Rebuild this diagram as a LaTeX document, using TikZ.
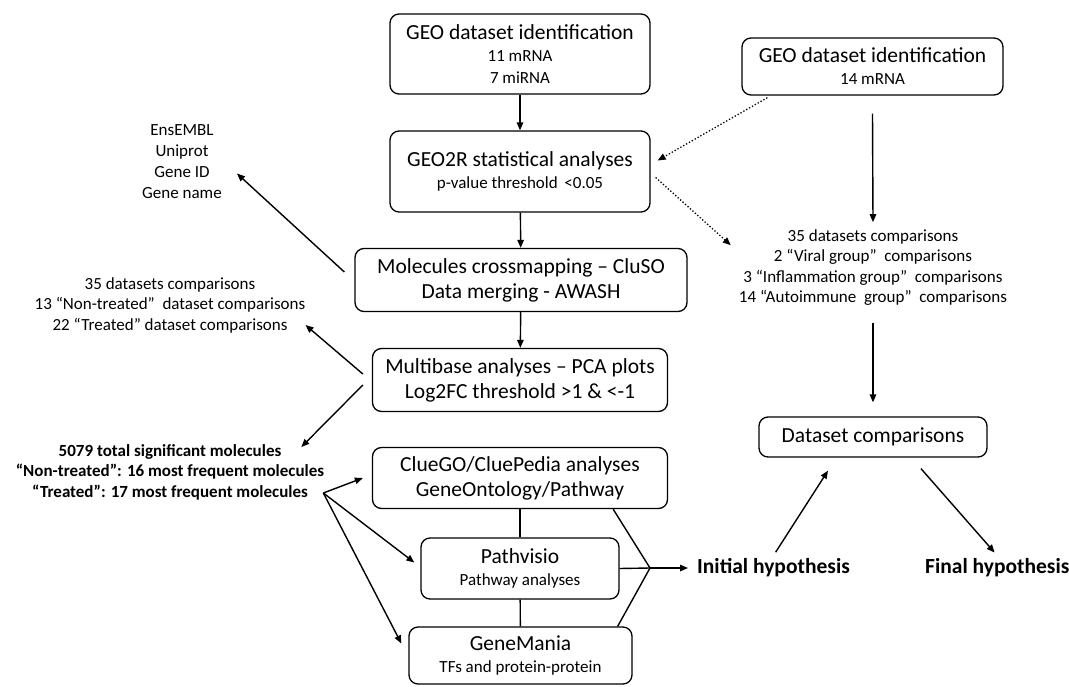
\documentclass[tikz,border=0pt]{standalone}
\usepackage{fontspec}
\setmainfont{Carlito}
\usepackage{tikz}
\usetikzlibrary{positioning,arrows.meta,calc}

\newcommand{\mainsz}{\fontsize{21.5}{25}\selectfont}
\newcommand{\subsz}{\fontsize{17}{22}\selectfont}
\newcommand{\listsz}{\fontsize{17}{20.5}\selectfont}

\tikzset{
  stepbox/.style={draw, line width=1.3pt, rounded corners=9pt, align=center, inner sep=2pt},
  arr/.style={line width=1.4pt, -{Triangle[length=8pt,width=6.5pt]}},
  dotarr/.style={line width=1.3pt, dotted, -{Triangle[length=8pt,width=6.5pt]}},
  side/.style={align=center, font=\listsz, inner sep=3pt}
}

\begin{document}
\begin{tikzpicture}[x=1pt, y=-1pt]
\useasboundingbox (0,0) rectangle (1069,686);
% main column
\node[stepbox, minimum width=260pt, minimum height=80pt, font=\subsz] (geo) at (520,54)
  {{\mainsz GEO dataset identification}\\11 mRNA\\7 miRNA};
\node[stepbox, minimum width=260pt, minimum height=81pt, font=\subsz] (geo2r) at (520,171.5)
  {{\mainsz GEO2R statistical analyses}\\p-value threshold \,<0.05};
\node[stepbox, minimum width=332pt, minimum height=63pt, font=\mainsz] (cross) at (521,280)
  {Molecules crossmapping -- CluSO\\Data merging - AWASH};
\node[stepbox, minimum width=295pt, minimum height=63pt, font=\mainsz] (multi) at (520,380)
  {Multibase analyses -- PCA plots\\Log2FC threshold >1 \& <-1};
\node[stepbox, minimum width=295pt, minimum height=61pt, font=\mainsz] (clue) at (520,478)
  {ClueGO/CluePedia analyses\\GeneOntology/Pathway};
\node[stepbox, minimum width=198pt, minimum height=61pt, font=\subsz] (pathv) at (520,568.5)
  {{\mainsz Pathvisio}\\Pathway analyses};
\node[stepbox, minimum width=223pt, minimum height=57pt, font=\subsz] (gmania) at (520.5,655.5)
  {{\mainsz GeneMania}\\TFs and protein-protein};
% right column
\node[stepbox, minimum width=261pt, minimum height=57pt, font=\subsz] (geoR) at (872.5,66.5)
  {{\mainsz GEO dataset identification}\\14 mRNA};
\node[side] (cmpR) at (873,267.5)
  {35 datasets comparisons\\2 ``Viral group''\ \ comparisons\\3 ``Inflammation group''\ \ comparisons\\14 ``Autoimmune\ \ group''\ \ comparisons};
\node[stepbox, minimum width=228pt, minimum height=40pt, font=\mainsz] (dscmp) at (873,437)
  {Dataset comparisons};
\node[anchor=west, font=\mainsz\bfseries, inner sep=3pt] (init) at (694,568) {Initial hypothesis};
\node[anchor=west, font=\mainsz\bfseries, inner sep=3pt] (final) at (922,568) {Final hypothesis};
% left notes
\node[side, font=\fontsize{17}{21}\selectfont] (ids) at (182,161.5) {EnsEMBL\\Uniprot\\Gene ID\\Gene name};
\node[side] (cmpL) at (170,305)
  {35 datasets comparisons\\13 ``Non-treated''\ \ dataset comparisons\\22 ``Treated'' dataset comparisons};
\node[side, font=\listsz\bfseries] (sig) at (170,472)
  {5079 total significant molecules\\``Non-treated'': 16 most frequent molecules\\``Treated'': 17 most frequent molecules};
% connectors
\draw[arr] (geo) -- (geo2r);
\draw[arr] (geo2r) -- (cross);
\draw[arr] (cross) -- (multi);
\draw[line width=1.4pt] (clue) -- (pathv);
\draw[line width=1.4pt] (pathv) -- (gmania);
\draw[arr] ([xshift=-10pt,yshift=8pt]cross.west) -- ([xshift=12pt,yshift=-12pt]ids.east);
\draw[arr] ([xshift=-9pt,yshift=6pt]multi.west) -- ([xshift=-3pt,yshift=-20pt]cmpL.east);
\draw[arr] ([xshift=-9pt,yshift=-5pt]multi.west) -- ([xshift=-26pt,yshift=25pt]sig.east);
\coordinate (split) at ([xshift=-4pt,yshift=-21pt]sig.east);
\draw[arr] (split) -- ([xshift=-9pt]clue.west);
\draw[arr] (split) -- ([xshift=-6pt,yshift=6pt]pathv.west);
\draw[arr] (split) -- ([xshift=-7pt,yshift=12pt]gmania.west);
% merge into hypothesis
\coordinate (merge) at (650,568);
\draw[line width=1.4pt] ([xshift=-55pt]clue.south east) -- (merge);
\draw[line width=1.4pt] (pathv.east) -- (merge);
\draw[line width=1.4pt] ([xshift=-15pt]gmania.north east) -- (merge);
\draw[arr, shorten >=6pt] (merge) -- (init.west);
% right side arrows
\draw[arr] ([yshift=-18pt]geoR.south) -- ([yshift=4pt]cmpR.north);
\draw[arr] ([yshift=-14pt]cmpR.south) -- ([yshift=14pt]dscmp.north);
\draw[arr, shorten <=4pt] (init.north) -- ([xshift=-45pt,yshift=-13pt]dscmp.south);
\draw[arr, shorten >=4pt] ([xshift=48pt,yshift=-11pt]dscmp.south) -- (final.north);
\draw[dotarr] ([xshift=26pt,yshift=-2pt]geoR.south west) -- ([xshift=7pt,yshift=11pt]geo2r.east);
\draw[dotarr] ([xshift=5pt,yshift=-6pt]geo2r.east) -- ([xshift=-5pt,yshift=-19pt]cmpR.north west);
\end{tikzpicture}
\end{document}
